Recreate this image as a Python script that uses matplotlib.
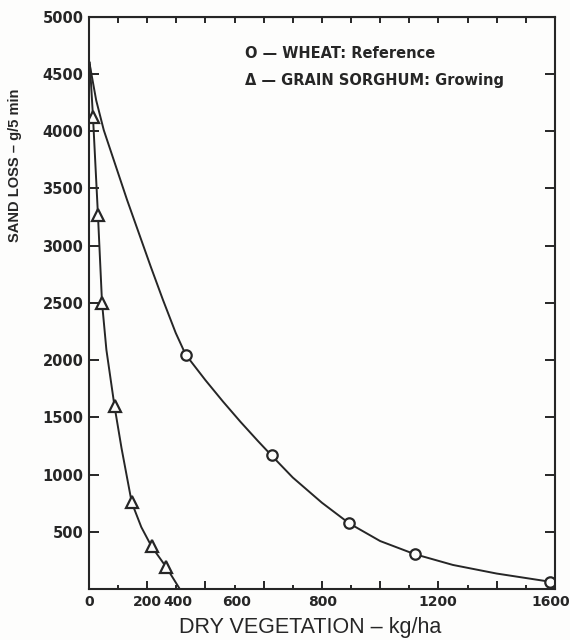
import matplotlib.pyplot as plt
import matplotlib.transforms as mtransforms

wheat_x = [332, 627, 894, 1118, 1582]
wheat_y = [2049, 1168, 573, 305, 64]
sorghum_x = [14, 31, 45, 88, 147, 215, 266]
sorghum_y = [4124, 3270, 2502, 1595, 756, 372, 189]

# hand-drawn curves
wheat_curve_x = [3, 25, 51, 131, 212, 254, 298, 332, 400, 460, 520, 580,
                 627, 700, 800, 894, 1000, 1118, 1250, 1400, 1582, 1600]
wheat_curve_y = [4580, 4270, 4010, 3400, 2819, 2528, 2238, 2049, 1825, 1639,
                 1462, 1294, 1167, 974, 754, 573, 419, 305, 210, 135, 64, 58]
sorghum_curve_x = [3, 14, 31, 45, 60, 88, 112, 147, 180, 215, 266, 312]
sorghum_curve_y = [4600, 4124, 3270, 2502, 2090, 1595, 1230, 756, 540, 372,
                   189, 0]

xtick_text = ['0', '200', '400', '600', '800', '1200', '1600']
xtick_at = [0, 201, 306, 507, 802, 1198, 1585]
ytick_vals = [500, 1000, 1500, 2000, 2500, 3000, 3500, 4000, 4500, 5000]

ink = '#262626'
paper = '#fdfdfc'

fig = plt.figure(figsize=(5.7, 6.4), dpi=100, facecolor=paper)
ax = fig.add_axes([0.156, 0.0797, 0.8175, 0.894], facecolor=paper)

ax.plot(wheat_curve_x, wheat_curve_y, color=ink, lw=1.4)
ax.plot(sorghum_curve_x, sorghum_curve_y, color=ink, lw=1.4)
ax.plot(wheat_x, wheat_y, 'o', ms=7.5, mfc=paper, mec=ink, mew=1.6)
ax.plot(sorghum_x, sorghum_y, '^', ms=8, mfc=paper, mec=ink, mew=1.6)

ax.set_xlim(0, 1600)
ax.set_ylim(0, 5000)

for s in ax.spines.values():
    s.set_linewidth(1.5)
    s.set_color(ink)

# bottom: long ticks every 200, short every 100 ; top: short every 100
ax.set_xticks(range(200, 1600, 200))
ax.set_xticks(range(100, 1600, 100), minor=True)
ax.tick_params(axis='x', which='major', direction='in', length=6, width=1.4,
               color=ink, labelbottom=False)
ax.tick_params(axis='x', which='minor', direction='in', length=3, width=1.4,
               color=ink)
ax.set_yticks(ytick_vals)
ax.set_yticklabels([str(v) for v in ytick_vals])
ax.tick_params(axis='y', direction='in', length=7, width=1.4, color=ink,
               right=True, pad=4, labelsize=10.5, labelcolor=ink)
for lab in ax.get_yticklabels():
    lab.set_fontweight('bold')

# top ticks drawn with a secondary axis
top = ax.secondary_xaxis('top')
top.set_xticks(range(100, 1600, 100))
top.tick_params(direction='in', length=4, width=1.4, color=ink, labeltop=False)

# x tick labels where the original puts them
trans = mtransforms.blended_transform_factory(ax.transData, ax.transAxes)
for pos, txt in zip(xtick_at, xtick_text):
    ax.text(pos, -0.011, txt, transform=trans, ha='center', va='top',
            fontsize=10, fontweight='bold', color=ink)

fig.text(0.544, 0.019, 'DRY VEGETATION \u2013 kg/ha', ha='center', va='center',
         fontsize=15.5, family='Liberation Sans', color=ink)
fig.text(0.026, 0.741, 'SAND LOSS \u2013 g/5 min', ha='center', va='center',
         rotation=90, fontsize=10.5, fontweight='bold',
         family='Liberation Sans', color=ink)

fig.text(0.430, 0.917, 'O \u2014 WHEAT: Reference', ha='left', va='center',
         fontsize=10.5, fontweight='bold', color=ink)
fig.text(0.430, 0.875, '\u0394 \u2014 GRAIN SORGHUM: Growing', ha='left',
         va='center', fontsize=10.5, fontweight='bold', color=ink)

fig.savefig('out.png', dpi=100, facecolor=paper)
